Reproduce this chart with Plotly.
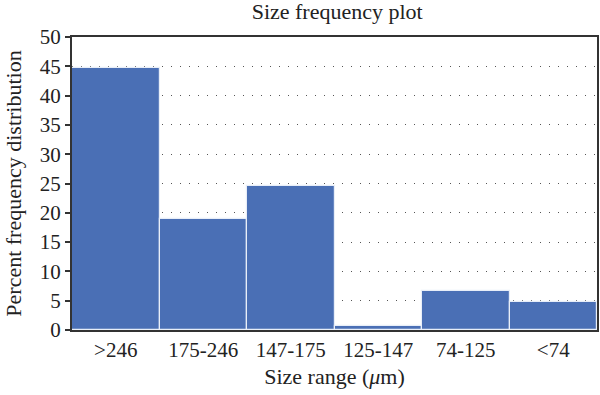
import plotly.graph_objects as go

categories = [">246", "175-246", "147-175", "125-147", "74-125", "<74"]
values = [44.7, 19.0, 24.5, 0.6, 6.7, 4.7]
y_ticks = [0, 5, 10, 15, 20, 25, 30, 35, 40, 45, 50]

font_family = "Liberation Serif, DejaVu Serif, serif"

fig = go.Figure(go.Bar(
    x=categories, y=values,
    marker=dict(color="#4a6fb5", line=dict(color="#e8eef8", width=1.2)),
))

fig.update_layout(
    width=600, height=395,
    margin=dict(l=72, r=3, t=37, b=65, autoexpand=False),
    paper_bgcolor="white", plot_bgcolor="white",
    bargap=0,
    showlegend=False,
    font=dict(family=font_family, color="#222222", size=21),
    title=dict(text="Size frequency plot", x=0.562, xanchor="center", y=0.99, yanchor="top",
               font=dict(size=22, family=font_family)),
)
fig.update_xaxes(
    showline=True, linecolor="#333333", linewidth=1.5, mirror=True,
    ticks="", showgrid=False, automargin=False,
    title=dict(text="Size range (<i>μ</i>m)", font=dict(size=22), standoff=8),
    tickfont=dict(size=21),
)
fig.update_yaxes(
    range=[0, 50], tickvals=y_ticks, automargin=False,
    showline=True, linecolor="#333333", linewidth=2, mirror=True,
    ticks="outside", ticklen=5, tickcolor="#333333", tickwidth=1.5,
    showgrid=True, gridcolor="#555555", griddash="1px,8px", gridwidth=1.2,
    zeroline=False,
    title=dict(text="Percent frequency distribution", font=dict(size=22), standoff=12),
    tickfont=dict(size=21),
)
fig.write_html("out.html", config={"displayModeBar": False},
               post_script="document.body.style.margin='0px';")
